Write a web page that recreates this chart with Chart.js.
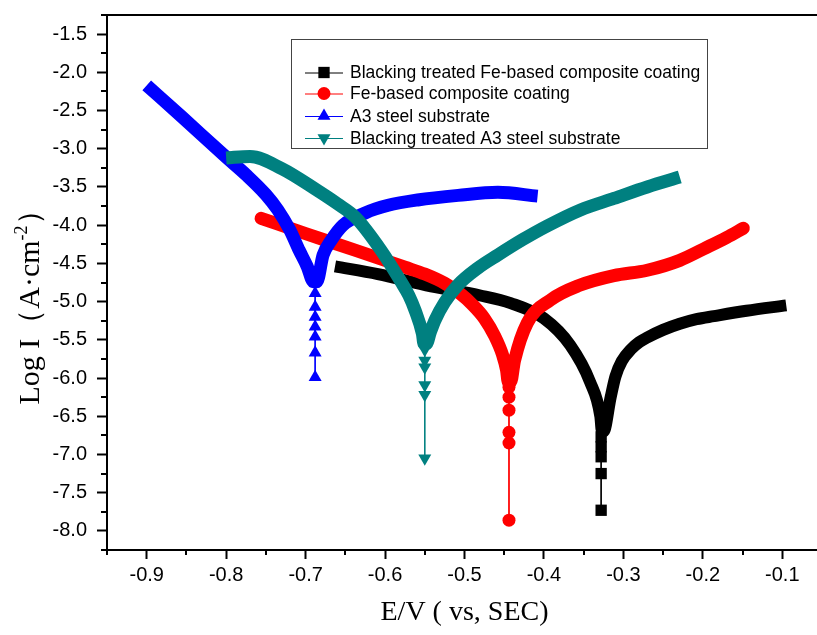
<!DOCTYPE html>
<html>
<head>
<meta charset="utf-8">
<script src="https://cdn.jsdelivr.net/npm/chart.js@4.4.0/dist/chart.umd.min.js"></script>
<style>
  html, body { margin: 0; padding: 0; background: #fff; overflow: hidden; }
  #wrap { width: 830px; height: 635px; }
</style>
</head>
<body>
<div id="wrap"><canvas id="myChart" width="830" height="635"></canvas></div>
<script>
// series names, in legend order
var seriesNames = [
    'Blacking treated Fe-based composite coating',
    'Fe-based composite coating',
    'A3 steel substrate',
    'Blacking treated A3 steel substrate'
];

// [E (V vs SCE), log I] - dense part of each scan
var blackCurve = [[-0.663,-4.54],[-0.609,-4.64],[-0.542,-4.80],[-0.48,-4.92],[-0.442,-5.02],[-0.40,-5.22],
    [-0.367,-5.57],[-0.342,-6.05],[-0.329,-6.50],[-0.327,-6.70],[-0.325,-6.70],[-0.316,-6.25],[-0.310,-5.98],
    [-0.302,-5.78],[-0.29,-5.62],[-0.28,-5.53],[-0.27,-5.47],[-0.25,-5.37],[-0.229,-5.29],[-0.208,-5.23],
    [-0.186,-5.19],[-0.145,-5.12],[-0.095,-5.05]];
var redCurve = [[-0.756,-3.91],[-0.70,-4.11],[-0.637,-4.33],[-0.575,-4.55],[-0.55,-4.64],[-0.525,-4.76],
    [-0.505,-4.90],[-0.49,-5.04],[-0.475,-5.22],[-0.462,-5.45],[-0.452,-5.70],[-0.447,-5.90],[-0.445,-6.05],
    [-0.442,-6.05],[-0.437,-5.77],[-0.421,-5.28],[-0.392,-4.98],[-0.356,-4.79],[-0.312,-4.66],[-0.27,-4.59],
    [-0.229,-4.46],[-0.195,-4.29],[-0.17,-4.16],[-0.149,-4.04]];
var blueCurve = [[-0.90,-2.17],[-0.855,-2.59],[-0.80,-3.11],[-0.775,-3.34],[-0.75,-3.60],[-0.735,-3.80],
    [-0.72,-4.06],[-0.708,-4.33],[-0.698,-4.54],[-0.690,-4.74],[-0.686,-4.74],[-0.678,-4.39],[-0.668,-4.20],
    [-0.653,-4.00],[-0.625,-3.84],[-0.596,-3.74],[-0.559,-3.67],[-0.508,-3.61],[-0.458,-3.57],[-0.408,-3.62]];
var tealCurve = [[-0.80,-3.12],[-0.77,-3.10],[-0.73,-3.26],[-0.686,-3.54],[-0.66,-3.72],[-0.637,-3.90],
    [-0.605,-4.33],[-0.58,-4.74],[-0.57,-4.92],[-0.562,-5.12],[-0.553,-5.42],[-0.551,-5.55],[-0.548,-5.55],
    [-0.543,-5.40],[-0.537,-5.24],[-0.525,-5.01],[-0.508,-4.78],[-0.483,-4.56],[-0.458,-4.39],[-0.427,-4.19],
    [-0.396,-4.01],[-0.354,-3.80],[-0.312,-3.65],[-0.27,-3.50],[-0.229,-3.37]];

// sparse points near the corrosion potential
var blackTail = [[-0.328,-6.77],[-0.328,-6.90],[-0.328,-7.03],[-0.328,-7.25],[-0.328,-7.73]];
var redTail = [[-0.444,-6.12],[-0.444,-6.25],[-0.444,-6.42],[-0.444,-6.71],[-0.444,-6.85],[-0.444,-7.86]];
var blueTail = [[-0.688,-4.89],[-0.688,-5.07],[-0.688,-5.20],[-0.688,-5.33],[-0.688,-5.46],[-0.688,-5.67],[-0.688,-5.99]];
var tealTail = [[-0.550,-5.47],[-0.550,-5.63],[-0.550,-5.77],[-0.550,-5.86],[-0.550,-6.09],[-0.550,-6.22],[-0.550,-7.05]];

// axis ticks
var xTicks = [-0.9, -0.8, -0.7, -0.6, -0.5, -0.4, -0.3, -0.2, -0.1];
var yTicks = [-1.5, -2.0, -2.5, -3.0, -3.5, -4.0, -4.5, -5.0, -5.5, -6.0, -6.5, -7.0, -7.5, -8.0];

var series = [
    {name: seriesNames[0], curve: blackCurve, tail: blackTail, color: '#000000', style: 'rect', radius: 8, rot: 0, width: 12, cap: 'butt'},
    {name: seriesNames[1], curve: redCurve, tail: redTail, color: '#ff0000', style: 'circle', radius: 6.5, rot: 0, width: 13, cap: 'round'},
    {name: seriesNames[2], curve: blueCurve, tail: blueTail, color: '#0000ff', style: 'triangle', radius: 7.5, rot: 0, width: 13, cap: 'butt'},
    {name: seriesNames[3], curve: tealCurve, tail: tealTail, color: '#008080', style: 'triangle', radius: 7.5, rot: 180, width: 13, cap: 'butt'}
];

function toPoints(pairs) {
    return pairs.map(function(p) { return {x: p[0], y: p[1]}; });
}

var datasets = [];
series.forEach(function(s, i) {
    datasets.push({
        label: s.name,
        data: toPoints(s.curve),
        showLine: true,
        borderColor: s.color,
        backgroundColor: s.color,
        borderWidth: s.width,
        borderJoinStyle: 'round',
        borderCapStyle: s.cap,
        cubicInterpolationMode: 'monotone',
        pointRadius: 0,
        order: 2 * (3 - i) + 1
    });
    datasets.push({
        label: s.name,
        data: toPoints(s.tail),
        showLine: true,
        borderColor: s.color,
        backgroundColor: s.color,
        borderWidth: 1,
        pointStyle: s.style,
        pointRadius: s.radius,
        pointRotation: s.rot,
        pointBorderWidth: 0,
        order: 2 * (3 - i)
    });
});

var tickFont = {family: "'Liberation Sans', Arial, sans-serif", size: 20};
var titleFont = {family: "'Liberation Serif', 'Times New Roman', serif", size: 28};
var serif = "'Liberation Serif', 'Times New Roman', serif";

// minor ticks, top frame line, y title and the Origin style legend box
var framePlugin = {
    id: 'frame',
    afterDraw: function(chart) {
        var ctx = chart.ctx, ca = chart.chartArea;
        var xs = chart.scales.x, ys = chart.scales.y;
        ctx.save();
        ctx.strokeStyle = '#000';
        ctx.lineWidth = 2;
        ctx.beginPath();
        ctx.moveTo(ca.left - 1, ca.top);
        ctx.lineTo(ca.right, ca.top);
        ctx.stroke();

        ctx.beginPath();
        for (var k = 0; k <= 18; k++) {
            var v = xs.min + k * 0.05;
            if (xTicks.some(function(t) { return Math.abs(t - v) < 1e-6; })) continue;
            var px = Math.round(xs.getPixelForValue(v));
            ctx.moveTo(px, ca.bottom);
            ctx.lineTo(px, ca.bottom + 5);
        }
        for (var j = 0; j <= 28; j++) {
            var w = ys.min + j * 0.25;
            if (yTicks.some(function(t) { return Math.abs(t - w) < 1e-6; })) continue;
            var py = Math.round(ys.getPixelForValue(w));
            ctx.moveTo(ca.left - 6, py);
            ctx.lineTo(ca.left, py);
        }
        ctx.stroke();

        // y axis title with a real superscript
        var parts = [
            {t: 'Log I', f: '30px ' + serif, dy: 0},
            {t: '（A·cm', f: '30px ' + serif, dy: 0},
            {t: '-2', f: '18px ' + serif, dy: -12},
            {t: '）', f: '30px ' + serif, dy: 0}
        ];
        var total = 0;
        parts.forEach(function(p) { ctx.font = p.f; p.w = ctx.measureText(p.t).width; total += p.w; });
        ctx.translate(39, 300);
        ctx.rotate(-Math.PI / 2);
        ctx.fillStyle = '#000';
        ctx.textBaseline = 'alphabetic';
        ctx.textAlign = 'left';
        var cx = -total / 2;
        parts.forEach(function(p) {
            ctx.font = p.f;
            ctx.fillText(p.t, cx, p.dy);
            cx += p.w;
        });
        ctx.setTransform(1, 0, 0, 1, 0, 0);

        var bx = ca.left + 184, by = ca.top + 24, bw = 416, bh = 109;
        ctx.fillStyle = '#fff';
        ctx.fillRect(bx, by, bw, bh);
        ctx.strokeStyle = '#444';
        ctx.lineWidth = 1;
        ctx.strokeRect(bx + 0.5, by + 0.5, bw, bh);
        var rows = [33.5, 54.5, 77, 99];
        ctx.font = "17.5px 'Liberation Sans', Arial, sans-serif";
        ctx.textBaseline = 'middle';
        ctx.textAlign = 'left';
        series.forEach(function(s, i) {
            var y = by + rows[i];
            ctx.strokeStyle = s.color;
            ctx.lineWidth = 1;
            ctx.beginPath();
            ctx.moveTo(bx + 14, y + 0.5);
            ctx.lineTo(bx + 52, y + 0.5);
            ctx.stroke();
            ctx.fillStyle = s.color;
            Chart.helpers.drawPoint(ctx, {pointStyle: s.style, radius: s.radius, rotation: s.rot, borderWidth: 0}, bx + 33, y);
            ctx.fillStyle = '#000';
            ctx.fillText(s.name, bx + 59, y + 1);
        });
        ctx.restore();
    }
};

var ctx = document.getElementById('myChart').getContext('2d');
var myChart = new Chart(ctx, {
    type: 'scatter',
    data: {datasets: datasets},
    options: {
        responsive: false,
        animation: false,
        devicePixelRatio: 1,
        layout: {padding: {top: 15, right: 4, left: 0, bottom: 0}},
        plugins: {legend: {display: false}, tooltip: {enabled: false}},
        scales: {
            x: {
                type: 'linear',
                min: -0.95,
                max: -0.05,
                afterBuildTicks: function(s) { s.ticks = xTicks.map(function(v) { return {value: v}; }); },
                afterFit: function(s) { s.height = 85; s.paddingLeft = 0; s.paddingRight = 0; },
                ticks: {
                    font: tickFont, color: '#000', padding: 4, autoSkip: false, maxRotation: 0,
                    callback: function(v) { return v.toFixed(1); }
                },
                grid: {drawOnChartArea: false, drawTicks: true, tickLength: 9, tickWidth: 2, tickColor: '#000'},
                border: {display: true, color: '#000', width: 2},
                title: {display: true, text: 'E/V ( vs, SEC)', font: titleFont, color: '#000', padding: {top: 0, bottom: 6}}
            },
            y: {
                type: 'linear',
                min: -8.25,
                max: -1.25,
                afterBuildTicks: function(s) { s.ticks = yTicks.map(function(v) { return {value: v}; }); },
                afterFit: function(s) { s.width = 107; s.paddingTop = 0; s.paddingBottom = 0; },
                ticks: {
                    font: tickFont, color: '#000', padding: 10, autoSkip: false,
                    callback: function(v) { return v.toFixed(1); }
                },
                grid: {drawOnChartArea: false, drawTicks: true, tickLength: 10, tickWidth: 2, tickColor: '#000'},
                border: {display: true, color: '#000', width: 2}
            }
        }
    },
    plugins: [framePlugin]
});
</script>
</body>
</html>
